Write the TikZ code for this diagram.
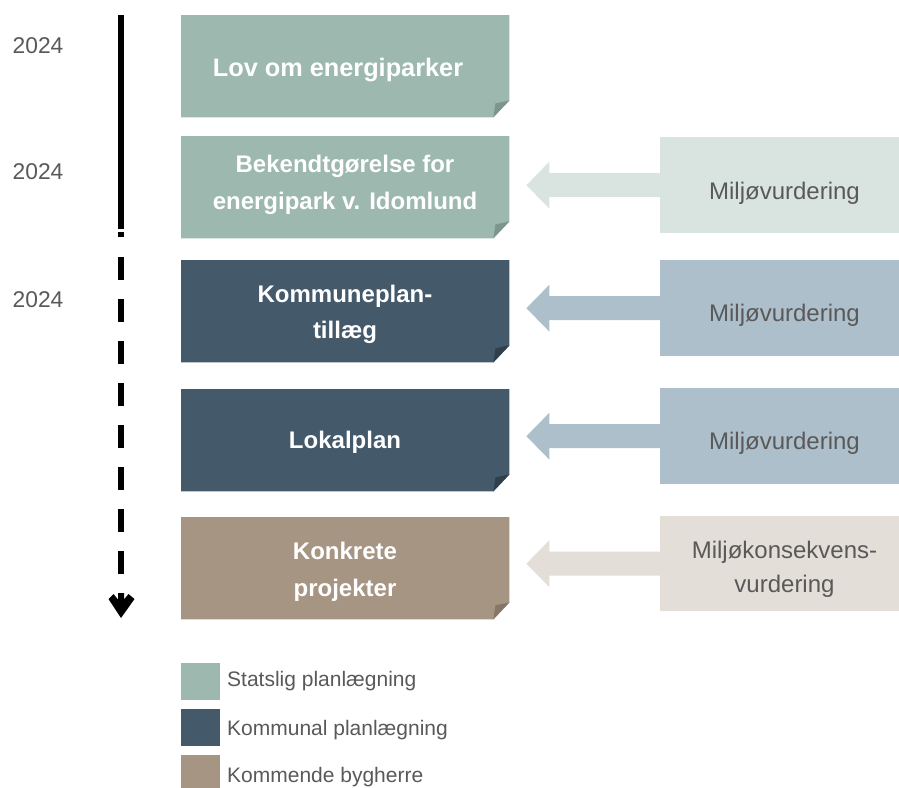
\documentclass[tikz,border=0pt]{standalone}
\usepackage{fontspec}
\setmainfont{Liberation Sans}
\usetikzlibrary{calc}
\definecolor{stat}{HTML}{9DB8AE}
\definecolor{statfold}{HTML}{7D968D}
\definecolor{komm}{HTML}{44596A}
\definecolor{kommfold}{HTML}{2F3F4B}
\definecolor{byg}{HTML}{A69583}
\definecolor{bygfold}{HTML}{857666}
\definecolor{statlt}{HTML}{D9E4E0}
\definecolor{kommlt}{HTML}{ADBFCB}
\definecolor{byglt}{HTML}{E3DED8}
\definecolor{txtgrey}{HTML}{595959}
\begin{document}
\begin{tikzpicture}[x=1pt,y=-1pt,
  planbox/.style={minimum width=328pt, minimum height=102pt, inner sep=0pt, anchor=north west},
  titletext/.style={text=white, font=\bfseries\fontsize{24}{36.5}\selectfont, align=center, anchor=base, inner sep=0pt},
  mvbox/.style={minimum width=249pt, minimum height=96pt, inner sep=0pt, anchor=north west},
  mvtext/.style={text=txtgrey, font=\fontsize{24}{34.5}\selectfont, align=center, anchor=base, inner sep=0pt},
  yeartext/.style={text=txtgrey, font=\fontsize{22.8}{26}\selectfont, anchor=base west, inner sep=0pt},
  legsq/.style={minimum width=39pt, minimum height=37pt, inner sep=0pt, anchor=north west},
  legtext/.style={text=txtgrey, font=\fontsize{21}{24}\selectfont, anchor=base west, inner sep=0pt},
  timeline/.style={line width=6pt, black}
]
\useasboundingbox (0,0) rectangle (899,787);

% plan boxes
\node[planbox] (b1) at (181,15) {};
\node[planbox] (b2) at (181,136) {};
\node[planbox] (b3) at (181,260) {};
\node[planbox] (b4) at (181,389) {};
\node[planbox] (b5) at (181,517) {};
\foreach \n/\c/\f in {b1/stat/statfold,b2/stat/statfold,b3/komm/kommfold,b4/komm/kommfold,b5/byg/bygfold}{
  \fill[\c] (\n.north west) -- (\n.north east) -- ([yshift=17pt]\n.south east)
     -- ([xshift=-16pt]\n.south east) -- (\n.south west) -- cycle;
  \fill[\f] ([yshift=17pt]\n.south east) -- ([xshift=-16pt]\n.south east)
     -- ([xshift=-14pt,yshift=14pt]\n.south east) -- cycle;
}
% (multi-line nodes: base = baseline of last line)
\node[titletext] (t1) at (338,76) {\fontsize{25.3}{36}\selectfont Lov om energiparker};
\node[titletext] (t2) at (345,209) {Bekendtgørelse for\\energipark v. Idomlund};
\node[titletext] (t3) at (345,338.5) {Kommuneplan-\\tillæg};
\node[titletext] (t4) at (345,448.3) {Lokalplan};
\node[titletext] (t5) at (345,596) {Konkrete\\projekter};

% assessment boxes
\node[mvbox, fill=statlt] (m1) at (660,137) {};
\node[mvbox, fill=kommlt] (m2) at (660,260) {};
\node[mvbox, fill=kommlt] (m3) at (660,388) {};
\node[mvbox, fill=byglt, minimum height=95pt] (m4) at (660,516) {};
\node[mvtext] (r1) at (784.5,199.3) {Miljøvurdering};
\node[mvtext] (r2) at (784.5,321) {Miljøvurdering};
\node[mvtext] (r3) at (784.5,449) {Miljøvurdering};
\node[mvtext] (r4) at (784.5,592.8) {Miljøkonsekvens-\\vurdering};

% block arrows from assessment boxes to plan boxes
\foreach \m/\b/\c in {m1/b2/statlt, m2/b3/kommlt, m3/b4/kommlt, m4/b5/byglt}{
  \path let \p1=(\b.east), \p2=(\m.west) in
    coordinate (tip) at (\x1+17pt,\y2)
    coordinate (hb) at (\x1+40pt,\y2);
  \fill[\c] ([yshift=12pt]\m.west) -- ([yshift=12pt]hb) -- ([yshift=23.5pt]hb)
     -- (tip) -- ([yshift=-23.5pt]hb) -- ([yshift=-12pt]hb) -- ([yshift=-12pt]\m.west) -- cycle;
}

% years
\node[yeartext] (y1) at (12.5,53.3) {2024};
\node[yeartext] (y2) at (12.5,179.3) {2024};
\node[yeartext] (y3) at (12.5,307.3) {2024};

% timeline
\coordinate (tl0) at (121,15);
\coordinate (tl1) at (121,229);
\coordinate (tl2) at (121,232);
\coordinate (tl3) at (121,237);
\coordinate (tl4) at (121,257);
\coordinate (tl5) at (121,574);
\draw[timeline] (tl0) -- (tl1);
\draw[timeline] (tl2) -- (tl3);
\draw[timeline, dash pattern=on 23pt off 19pt] (tl4) -- (tl5);
\fill[black] (108.5,599) -- (113.5,594) -- (118,599.5) -- (118,593) -- (124,593) -- (124,599.5)
   -- (128.5,594) -- (134.5,599) -- (121,618) -- cycle;

% legend
\node[legsq, fill=stat] (s1) at (181,663) {};
\node[legsq, fill=komm] (s2) at (181,709) {};
\node[legsq, fill=byg] (s3) at (181,755) {};
\node[legtext] (l1) at (227,686) {Statslig planlægning};
\node[legtext] (l2) at (227,735) {Kommunal planlægning};
\node[legtext] (l3) at (227,782.7) {Kommende bygherre};
\end{tikzpicture}
\end{document}
